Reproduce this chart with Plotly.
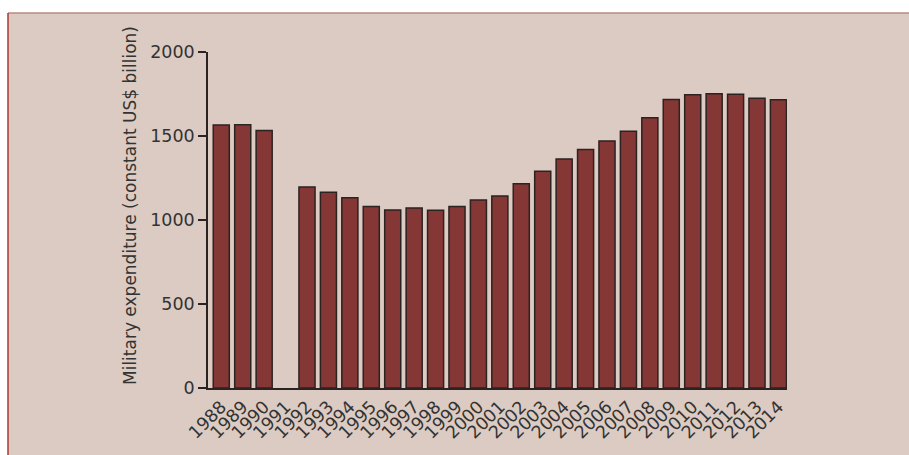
import plotly.graph_objects as go

years = [str(y) for y in range(1988, 2015)]
spending = [1565, 1567, 1532, None, 1196, 1165, 1133, 1081, 1060, 1071, 1058, 1081,
            1119, 1143, 1216, 1290, 1363, 1420, 1470, 1528, 1609, 1718, 1746, 1752,
            1748, 1724, 1716]
y_ticks = [0, 500, 1000, 1500, 2000]

BG = "#dccbc2"
BAR = "#853735"
EDGE = "#2b2222"
TXT = "#333333"
FONT = "DejaVu Sans"

W, H = 909, 455
L, R, T, B = 208, 122, 52, 67
pw = W - L - R
ph = H - T - B

def px2paper_x(px):
    return (px - L) / pw

def px2paper_y(py):
    return (H - B - py) / ph

fig = go.Figure()
fig.add_trace(go.Bar(
    x=years, y=spending,
    marker=dict(color=BAR, line=dict(color=EDGE, width=1.5)),
    width=0.75,
))

fig.add_shape(type="rect", xref="paper", yref="paper",
              x0=px2paper_x(8), x1=px2paper_x(W + 10),
              y0=px2paper_y(H + 10), y1=px2paper_y(13),
              fillcolor=BG, line=dict(width=0), layer="below")
fig.add_shape(type="line", xref="paper", yref="paper",
              x0=px2paper_x(8), x1=px2paper_x(W + 10),
              y0=px2paper_y(13), y1=px2paper_y(13),
              line=dict(color="#b88a82", width=1.5), layer="below")
fig.add_shape(type="line", xref="paper", yref="paper",
              x0=px2paper_x(8), x1=px2paper_x(8),
              y0=px2paper_y(13), y1=px2paper_y(H + 10),
              line=dict(color="#a83a36", width=1.5), layer="below")

fig.add_annotation(text="Military expenditure (constant US$ billion)",
                   xref="paper", yref="paper", x=0, y=0.5,
                   xanchor="center", yanchor="middle", textangle=-90,
                   xshift=-78, yshift=14, showarrow=False,
                   font=dict(family=FONT, size=17, color=TXT))

fig.update_layout(
    width=W, height=H,
    margin=dict(l=L, r=R, t=T, b=B, pad=0),
    paper_bgcolor="white",
    plot_bgcolor="rgba(0,0,0,0)",
    showlegend=False,
    font=dict(family=FONT, size=17.5, color=TXT),
    xaxis=dict(type="category", range=[-0.62, 26.4], showgrid=False,
               showline=True, linecolor=EDGE, linewidth=1.5,
               ticks="", tickangle=-45, tickfont=dict(size=17.5, color=TXT),
               zeroline=False),
    yaxis=dict(range=[0, 2000], tickvals=y_ticks, showgrid=False,
               showline=True, linecolor=EDGE, linewidth=1.5,
               ticks="outside", ticklen=8, tickwidth=1.5, tickcolor=EDGE,
               tickfont=dict(size=17.5, color=TXT), zeroline=False),
)

fig.write_html("out.html",
               config={"displayModeBar": False},
               post_script="document.body.style.margin='0';document.body.style.overflow='hidden';")
